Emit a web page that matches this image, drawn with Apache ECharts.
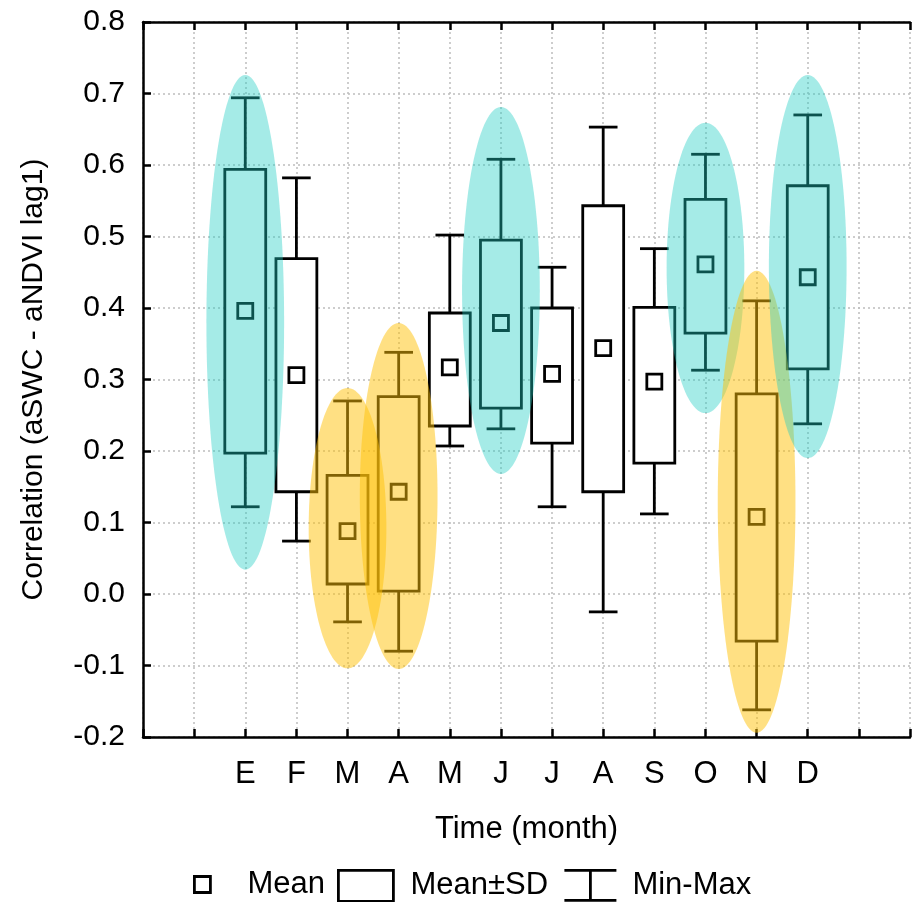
<!DOCTYPE html>
<html>
<head>
<meta charset="utf-8">
<title>Correlation aSWC - aNDVI lag1</title>
<script src="https://cdn.jsdelivr.net/npm/echarts@6/dist/echarts.min.js"></script>
<style>
  html, body { margin: 0; padding: 0; background: #fff; }
  #chart { width: 913px; height: 902px; }
</style>
</head>
<body>
<div id="chart"></div>
<script>
// 월별 데이터 (E..D)
var months = ['E', 'F', 'M', 'A', 'M', 'J', 'J', 'A', 'S', 'O', 'N', 'D'];
var meanVals = [0.396, 0.306, 0.088, 0.143, 0.317, 0.379, 0.308, 0.344, 0.297, 0.461, 0.108, 0.443];
var sdLow    = [0.197, 0.143, 0.014, 0.004, 0.235, 0.260, 0.211, 0.143, 0.183, 0.365, -0.066, 0.315];
var sdHigh   = [0.594, 0.469, 0.166, 0.276, 0.393, 0.495, 0.400, 0.543, 0.401, 0.552, 0.280, 0.571];
var minVals  = [0.122, 0.074, -0.039, -0.080, 0.207, 0.231, 0.122, -0.025, 0.112, 0.313, -0.162, 0.238];
var maxVals  = [0.694, 0.582, 0.270, 0.338, 0.502, 0.608, 0.457, 0.653, 0.483, 0.615, 0.410, 0.670];

// 강조 타원 (월 번호, 위/아래 값, 그룹)
var ellipseMonth  = [1, 3, 4, 6, 10, 11, 12];
var ellipseTop    = [0.726, 0.288, 0.379, 0.681, 0.659, 0.452, 0.726];
var ellipseBottom = [0.034, -0.104, -0.105, 0.168, 0.253, -0.194, 0.190];
var ellipseGroup  = ['pos', 'neg', 'neg', 'pos', 'pos', 'neg', 'pos'];

var yTicks = [-0.2, -0.1, 0.0, 0.1, 0.2, 0.3, 0.4, 0.5, 0.6, 0.7, 0.8];

var FONT = "'Liberation Sans', Arial, sans-serif";
var groupColor = { pos: 'rgba(30,205,195,0.4)', neg: 'rgba(255,193,7,0.5)' };
var LW = 2.8;

var boxData = [], whiskerData = [], meanData = [], ellipseData = [];
for (var i = 0; i < months.length; i++) {
	boxData.push([i + 1, sdLow[i], sdHigh[i]]);
	whiskerData.push([i + 1, minVals[i], maxVals[i]]);
	meanData.push([i + 1, meanVals[i]]);
}
for (var k = 0; k < ellipseMonth.length; k++) {
	ellipseData.push([ellipseMonth[k], ellipseBottom[k], ellipseTop[k], ellipseGroup[k]]);
}

function renderWhisker(params, api) {
	var x = api.value(0);
	var lo = api.coord([x, api.value(1)]);
	var hi = api.coord([x, api.value(2)]);
	var capL = api.coord([x - 0.28, api.value(1)])[0];
	var capR = api.coord([x + 0.28, api.value(1)])[0];
	var st = { stroke: '#000', lineWidth: LW };
	return {
		type: 'group',
		children: [
			{ type: 'line', shape: { x1: lo[0], y1: lo[1], x2: hi[0], y2: hi[1] }, style: st },
			{ type: 'line', shape: { x1: capL, y1: lo[1], x2: capR, y2: lo[1] }, style: st },
			{ type: 'line', shape: { x1: capL, y1: hi[1], x2: capR, y2: hi[1] }, style: st }
		]
	};
}

function renderBox(params, api) {
	var x = api.value(0);
	var p1 = api.coord([x - 0.4, api.value(1)]);
	var p2 = api.coord([x + 0.4, api.value(2)]);
	return {
		type: 'rect',
		shape: { x: p1[0], y: p2[1], width: p2[0] - p1[0], height: p1[1] - p2[1] },
		style: { fill: '#fff', stroke: '#000', lineWidth: LW }
	};
}

function renderMean(params, api) {
	var p = api.coord([api.value(0), api.value(1)]);
	var s = 15;
	return {
		type: 'rect',
		shape: { x: p[0] - s / 2, y: p[1] - s / 2, width: s, height: s },
		style: { fill: 'none', stroke: '#000', lineWidth: LW }
	};
}

function renderEllipse(params, api) {
	var x = api.value(0);
	var bottom = api.coord([x, api.value(1)]);
	var top = api.coord([x, api.value(2)]);
	var left = api.coord([x - 0.76, api.value(1)]);
	return {
		type: 'ellipse',
		shape: { cx: bottom[0], cy: (bottom[1] + top[1]) / 2, rx: bottom[0] - left[0], ry: (bottom[1] - top[1]) / 2 },
		style: { fill: groupColor[api.value(3)] }
	};
}

var chart = echarts.init(document.getElementById('chart'));

var axisLineStyle = { color: '#000', width: 2.5 };
var gridLineStyle = { color: '#bdbdbd', width: 1.5, type: [2, 3] };
var legendText = { fontSize: 31, fontFamily: FONT, color: '#000' };

var option = {
	animation: false,
	backgroundColor: '#fff',
	textStyle: { fontFamily: FONT, color: '#000' },
	grid: { left: 143, top: 22, right: -13, bottom: 165 },
	xAxis: [
		{
			type: 'value', min: -1, max: 14, interval: 1,
			name: 'Time (month)', nameLocation: 'middle', nameGap: 77,
			nameTextStyle: { fontSize: 31, fontFamily: FONT, color: '#000' },
			axisLine: { show: true, onZero: false, lineStyle: axisLineStyle },
			axisTick: { show: true, inside: true, length: 8, lineStyle: axisLineStyle },
			axisLabel: {
				fontSize: 31, fontFamily: FONT, color: '#000', margin: 22,
				showMinLabel: true, showMaxLabel: true,
				formatter: function (v) { return (v >= 1 && v <= 12) ? months[v - 1] : ''; }
			},
			splitLine: { show: true, lineStyle: gridLineStyle }
		},
		{
			type: 'value', position: 'top', min: -1, max: 14, interval: 1,
			axisLine: { show: true, onZero: false, lineStyle: axisLineStyle },
			axisTick: { show: true, inside: true, length: 8, lineStyle: axisLineStyle },
			axisLabel: { show: false },
			splitLine: { show: false }
		}
	],
	yAxis: {
		type: 'value', min: yTicks[0], max: yTicks[yTicks.length - 1], interval: 0.1,
		name: 'Correlation (aSWC - aNDVI lag1)', nameLocation: 'middle', nameGap: 94,
		nameTextStyle: { fontSize: 30, fontFamily: FONT, color: '#000' },
		axisLine: { show: true, onZero: false, lineStyle: axisLineStyle },
		axisTick: { show: true, inside: true, length: 8, lineStyle: axisLineStyle },
		axisLabel: {
			fontSize: 30, fontFamily: FONT, color: '#000', margin: 18,
			formatter: function (v) { return v.toFixed(1); }
		},
		splitLine: { show: true, lineStyle: gridLineStyle }
	},
	legend: [
		{
			left: 193, top: 869, padding: 0, selectedMode: false,
			itemWidth: 80, itemHeight: 16,
			textStyle: legendText,
			data: [{ name: 'Mean', icon: 'path://M0,0L10,0L10,10L0,10Z',
				itemStyle: { color: 'rgba(0,0,0,0)', borderColor: '#000', borderWidth: LW } }]
		},
		{
			left: 337, top: 869, padding: 0, selectedMode: false,
			itemWidth: 79, itemHeight: 31,
			textStyle: legendText,
			data: [{ name: 'Mean±SD', icon: 'path://M0,0L55,0L55,31L0,31Z',
				itemStyle: { color: 'rgba(0,0,0,0)', borderColor: '#000', borderWidth: LW } }]
		},
		{
			left: 563, top: 869, padding: 0, selectedMode: false,
			itemWidth: 74, itemHeight: 30,
			textStyle: legendText,
			data: [{ name: 'Min-Max', icon: 'path://M0,0L52,0M26,0L26,30M0,30L52,30',
				itemStyle: { color: 'rgba(0,0,0,0)', borderColor: '#000', borderWidth: LW } }]
		}
	],
	series: [
		{ name: 'Min-Max', type: 'custom', renderItem: renderWhisker, data: whiskerData, z: 2,
			encode: { x: 0, y: [1, 2] }, itemStyle: { color: '#000' } },
		{ name: 'Mean±SD', type: 'custom', renderItem: renderBox, data: boxData, z: 3,
			encode: { x: 0, y: [1, 2] }, itemStyle: { color: '#000' } },
		{ name: 'Mean', type: 'custom', renderItem: renderMean, data: meanData, z: 4,
			encode: { x: 0, y: 1 }, itemStyle: { color: '#000' } },
		{ name: 'highlight', type: 'custom', renderItem: renderEllipse, data: ellipseData, z: 5,
			encode: { x: 0, y: [1, 2] }, silent: true }
	]
};

chart.setOption(option);
window.onresize = function () {
	chart.resize();
};
</script>
</body>
</html>
